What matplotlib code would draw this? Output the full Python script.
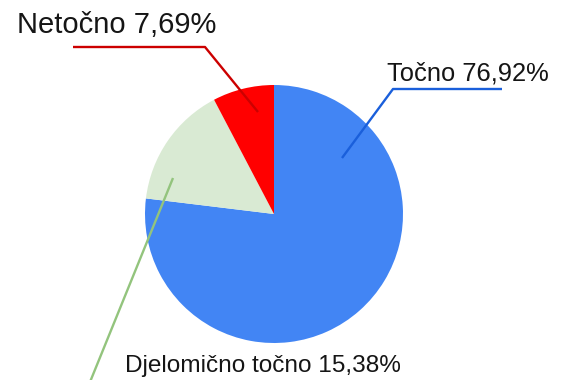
import matplotlib
matplotlib.use("Agg")
import matplotlib.pyplot as plt

labels = ["Točno", "Djelomično točno", "Netočno"]
values = [76.92, 15.38, 7.69]
colors = ["#4285F4", "#D9EAD3", "#FF0000"]
line_colors = ["#1A5FDB", "#93C47D", "#CC0000"]

W, H = 563, 380
fig = plt.figure(figsize=(W / 100, H / 100), dpi=100)
ax = fig.add_axes([0, 0, 1, 1])

cx, cy, r = 274, H - 214, 129
ax.pie(values, colors=colors, startangle=90, counterclock=False,
       center=(cx, cy), radius=r, frame=True,
       wedgeprops=dict(linewidth=0))
ax.set_xlim(0, W)
ax.set_ylim(0, H)
ax.set_aspect("equal")
ax.axis("off")

font = "Liberation Sans"

def fmt(v):
    return f"{v:.2f}".replace(".", ",") + "%"

# leader lines (pixel coordinates measured from top)
leaders = [
    [(502, 89), (393, 89), (342, 158)],
    [(173, 178), (90, 382)],
    [(73, 47), (205, 47), (258, 112)],
]
for pts, c in zip(leaders, line_colors):
    xs = [p[0] for p in pts]
    ys = [H - p[1] for p in pts]
    ax.plot(xs, ys, color=c, lw=1.7, solid_capstyle="butt")

# label text: (left x, baseline y from top, font size)
text_pos = [(387, 81, 18.4), (125, 372, 17.6), (17, 33, 21)]
for lab, v, (tx, ty, fs) in zip(labels, values, text_pos):
    ax.text(tx, H - ty, f"{lab} {fmt(v)}", ha="left", va="baseline",
            fontsize=fs, family=font, color="#151515")

fig.savefig("out.png", dpi=100)
